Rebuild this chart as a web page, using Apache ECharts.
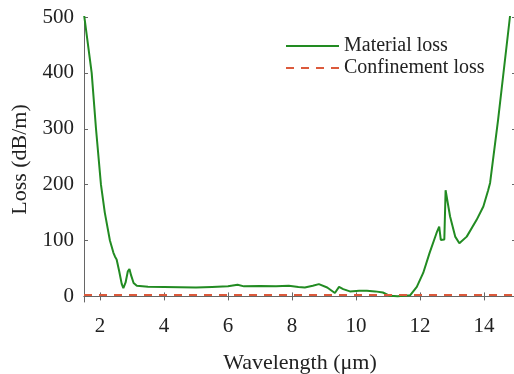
<!DOCTYPE html>
<html>
<head>
<meta charset="utf-8">
<script src="https://cdn.jsdelivr.net/npm/echarts@6/dist/echarts.min.js"></script>
<style>
html,body{margin:0;padding:0;background:#fff;}
#c{width:514px;height:374px;}
</style>
</head>
<body>
<div id="c"></div>
<script>
const materialWavelength = [1.5,1.74,1.875,2.03,2.15,2.31,2.42,2.47,2.52,2.6,2.68,2.73,2.8,2.87,2.92,2.97,3.05,3.15,3.5,4,4.5,5,5.5,6,6.3,6.5,7,7.5,7.9,8.2,8.4,8.65,8.84,9.1,9.34,9.47,9.6,9.81,10.1,10.34,10.6,10.84,11.06,11.3,11.69,11.9,12.1,12.3,12.52,12.6,12.65,12.76,12.8,12.94,13.1,13.23,13.46,13.77,13.98,14.13,14.19,14.44,14.81,14.86];
const materialLoss = [505,400,300,200,150,100,78,71,66,45,22,15,25,45,49,38,24,19,17.5,17,16.5,16,17,18,21,18,18.5,18,19,17,16,19,22,16,6,17,13,9,10,10,9,7,1,0.5,2,17,42,78,114,125,101,102,190,143,107,95,107,137,161,190,203,316,500,525];
const confWavelength = [1.5,3,5,7,9,11,13,15];
const confLoss = [2.5,2.5,2.5,2.5,2.5,2.5,2.5,2.5];
const xTicks = [2,4,6,8,10,12,14];
const yTicks = [0,100,200,300,400,500];

const font = '"Liberation Serif", "Times New Roman", serif';
const axisColor = '#666';
const chart = echarts.init(document.getElementById('c'));
const tickStyle = {inside:true, length:4, lineStyle:{color:axisColor}};
chart.setOption({
  animation:false,
  grid:{left:84, top:17, right:-2, bottom:72, outerBoundsMode:'none', containLabel:false},
  legend:{
    orient:'vertical', left:280, top:31, itemGap:2, itemWidth:53, itemHeight:14,
    itemStyle:{opacity:0},
    textStyle:{fontFamily:font, fontSize:20, color:'#222'},
    data:['Material loss','Confinement loss']
  },
  xAxis:[{
    type:'value', min:1.5, max:15, position:'bottom',
    name:'Wavelength (\u03bcm)', nameLocation:'middle', nameGap:50,
    nameTextStyle:{fontFamily:font, fontSize:22, color:'#222'},
    axisLine:{lineStyle:{color:axisColor, width:1}},
    axisTick:Object.assign({customValues:xTicks}, tickStyle),
    axisLabel:{customValues:xTicks, fontFamily:font, fontSize:21, color:'#222', margin:14},
    splitLine:{show:false}
  },{
    type:'value', min:1.5, max:15, position:'top',
    axisLine:{lineStyle:{color:axisColor, width:1}},
    axisTick:Object.assign({customValues:xTicks}, tickStyle),
    axisLabel:{show:false}, splitLine:{show:false}
  }],
  yAxis:[{
    type:'value', min:-10, max:500, position:'left',
    name:'Loss (dB/m)', nameLocation:'middle', nameGap:47,
    nameTextStyle:{fontFamily:font, fontSize:22, color:'#222'},
    axisLine:{show:true, lineStyle:{color:axisColor, width:1}},
    axisTick:Object.assign({show:true, customValues:yTicks}, tickStyle),
    axisLabel:{customValues:yTicks, fontFamily:font, fontSize:21, color:'#222', margin:10},
    splitLine:{show:false}
  },{
    type:'value', min:-10, max:500, position:'right',
    axisLine:{show:true, lineStyle:{color:axisColor, width:1}},
    axisTick:Object.assign({show:true, customValues:yTicks}, tickStyle),
    axisLabel:{show:false}, splitLine:{show:false}
  }],
  series:[{
    name:'Material loss', type:'line', symbol:'none', clip:true,
    lineStyle:{color:'#228b22', width:2},
    itemStyle:{color:'#228b22'},
    data:materialWavelength.map((w,i)=>[w, materialLoss[i]])
  },{
    name:'Confinement loss', type:'line', symbol:'none', clip:true,
    lineStyle:{color:'#dc5a3c', width:2, type:[8,7]},
    itemStyle:{color:'#dc5a3c'},
    data:confWavelength.map((w,i)=>[w, confLoss[i]])
  }]
});
</script>
</body>
</html>
